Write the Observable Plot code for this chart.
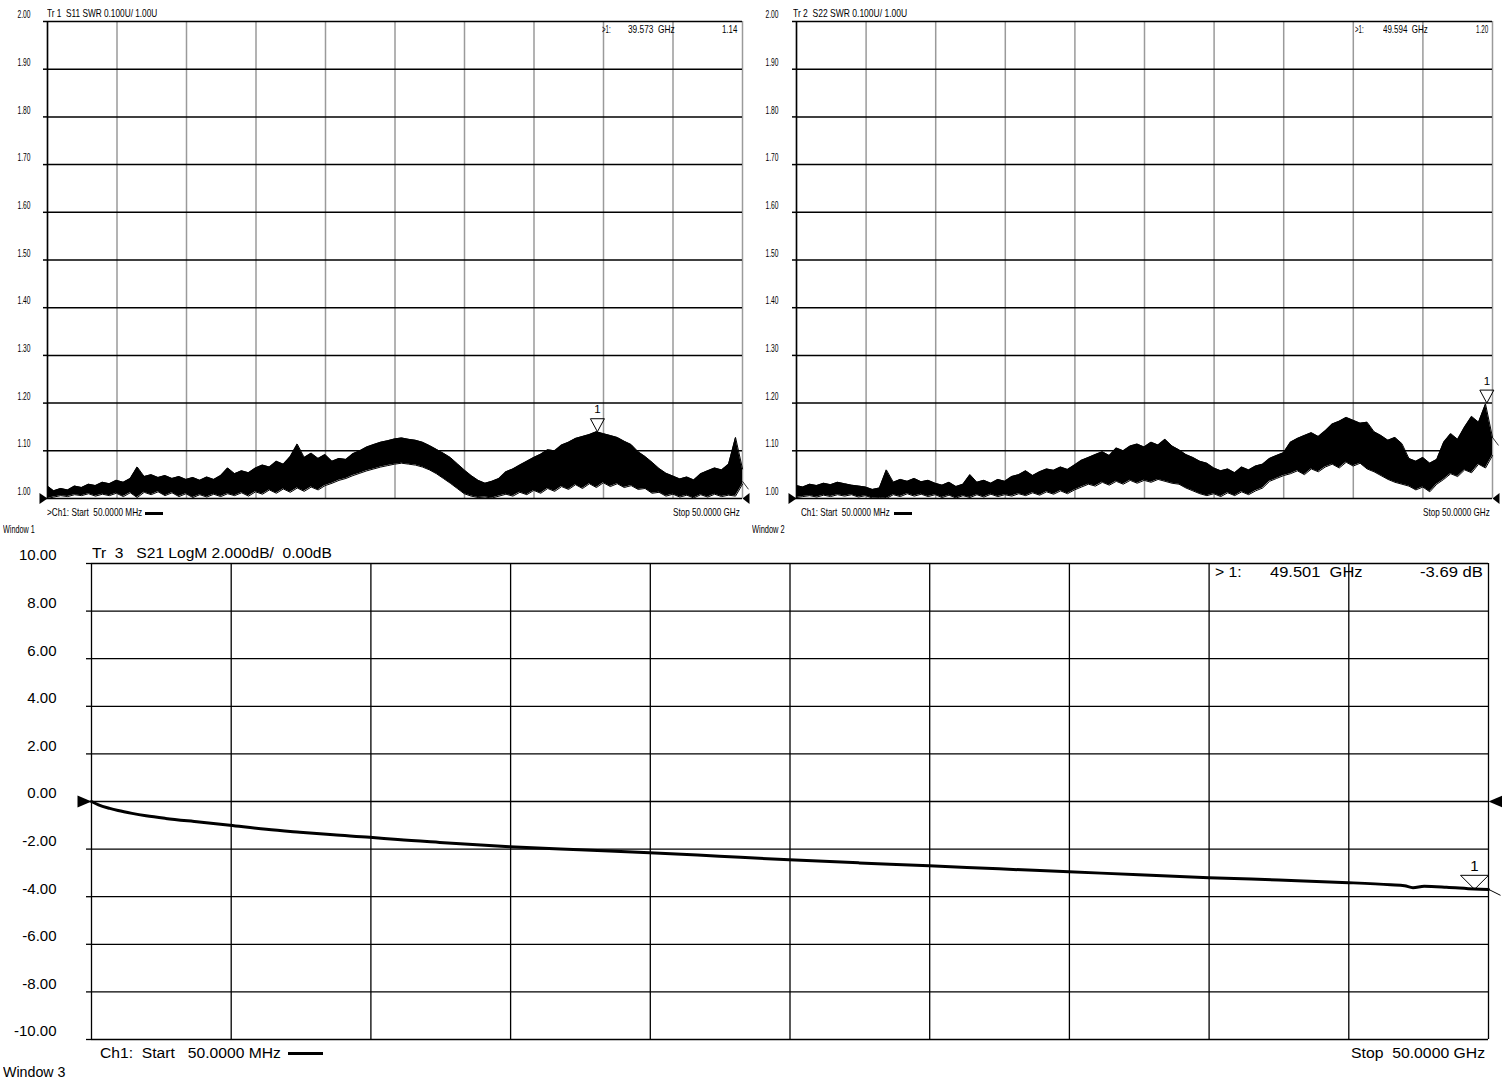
<!DOCTYPE html>
<html><head><meta charset="utf-8">
<script src="https://cdn.jsdelivr.net/npm/d3@7"></script>
<script src="https://cdn.jsdelivr.net/npm/@observablehq/plot@0.6"></script>
<style>
html,body{margin:0;padding:0;background:#fff;}
#root{position:relative;width:1502px;height:1081px;overflow:hidden;background:#fff;font-family:"Liberation Sans",Arial,sans-serif;color:#000;}
#root svg{position:absolute;}
.lbl{position:absolute;white-space:pre;line-height:1;transform-origin:0 50%;}
.bar{position:absolute;background:#000;}
</style></head><body><div id="root"></div>
<script>
// ---------- data ----------
const freq = [0.05,0.5,1,1.5,2,2.5,3,3.5,4,4.5,5,5.5,6,6.5,7,7.5,8,8.5,9,9.5,10,10.5,11,11.5,12,12.5,13,13.5,14,14.5,15,15.5,16,16.5,17,17.5,18,18.5,19,19.5,20,20.5,21,21.5,22,22.5,23,23.5,24,24.5,25,25.5,26,26.5,27,27.5,28,28.5,29,29.5,30,30.5,31,31.5,32,32.5,33,33.5,34,34.5,35,35.5,36,36.5,37,37.5,38,38.5,39,39.5,40,40.5,41,41.5,42,42.5,43,43.5,44,44.5,45,45.5,46,46.5,47,47.5,48,48.5,49,49.5,50];

const s11Hi = [1.026,1.016,1.021,1.018,1.026,1.023,1.030,1.027,1.034,1.031,1.038,1.034,1.042,1.066,1.046,1.050,1.044,1.048,1.042,1.046,1.040,1.044,1.038,1.045,1.040,1.048,1.064,1.052,1.058,1.054,1.064,1.070,1.066,1.078,1.072,1.088,1.114,1.086,1.095,1.084,1.092,1.078,1.084,1.082,1.094,1.100,1.108,1.113,1.118,1.121,1.125,1.127,1.124,1.122,1.118,1.111,1.103,1.095,1.086,1.073,1.060,1.048,1.038,1.032,1.036,1.042,1.056,1.062,1.070,1.078,1.086,1.093,1.102,1.100,1.112,1.118,1.126,1.130,1.134,1.140,1.136,1.132,1.128,1.120,1.113,1.098,1.088,1.076,1.063,1.053,1.047,1.041,1.045,1.039,1.052,1.058,1.064,1.060,1.072,1.128,1.062];
const s11Lo = [1.000,1.003,1.006,1.004,1.008,1.006,1.010,1.005,1.009,1.006,1.011,1.004,1.012,1.002,1.013,1.008,1.014,1.006,1.012,1.004,1.010,1.002,1.008,1.003,1.009,1.004,1.010,1.006,1.012,1.005,1.014,1.009,1.018,1.011,1.020,1.013,1.022,1.015,1.024,1.018,1.027,1.032,1.038,1.042,1.048,1.053,1.058,1.062,1.066,1.069,1.072,1.074,1.072,1.070,1.066,1.060,1.052,1.042,1.032,1.021,1.010,1.005,1.002,1.003,1.001,1.005,1.009,1.005,1.013,1.008,1.017,1.011,1.021,1.015,1.025,1.019,1.029,1.021,1.031,1.023,1.033,1.025,1.031,1.023,1.027,1.019,1.021,1.011,1.013,1.005,1.009,1.003,1.007,1.001,1.008,1.003,1.009,1.004,1.007,1.005,1.030];

const s22Hi = [1.027,1.024,1.030,1.027,1.032,1.029,1.034,1.031,1.028,1.026,1.024,1.019,1.022,1.060,1.034,1.040,1.036,1.042,1.035,1.038,1.032,1.028,1.034,1.025,1.030,1.050,1.034,1.038,1.032,1.040,1.036,1.046,1.050,1.058,1.048,1.056,1.062,1.059,1.066,1.061,1.070,1.080,1.086,1.092,1.098,1.090,1.106,1.100,1.110,1.114,1.108,1.118,1.112,1.124,1.110,1.102,1.092,1.086,1.078,1.074,1.064,1.058,1.062,1.054,1.066,1.060,1.068,1.072,1.084,1.090,1.096,1.118,1.126,1.132,1.138,1.130,1.142,1.156,1.162,1.170,1.164,1.158,1.160,1.140,1.132,1.122,1.128,1.115,1.084,1.078,1.086,1.074,1.082,1.118,1.136,1.124,1.150,1.172,1.160,1.198,1.128];
const s22Lo = [1.002,1.004,1.006,1.003,1.007,1.004,1.008,1.005,1.008,1.003,1.006,1.001,1.002,1.000,1.008,1.004,1.010,1.005,1.009,1.004,1.008,1.002,1.007,1.001,1.006,1.002,1.008,1.003,1.009,1.004,1.008,1.005,1.010,1.006,1.012,1.007,1.014,1.009,1.016,1.010,1.018,1.024,1.030,1.026,1.034,1.028,1.036,1.030,1.038,1.032,1.038,1.034,1.040,1.036,1.032,1.030,1.022,1.016,1.010,1.006,1.010,1.004,1.012,1.006,1.014,1.008,1.016,1.022,1.036,1.042,1.048,1.052,1.058,1.050,1.062,1.056,1.066,1.072,1.064,1.076,1.068,1.074,1.062,1.056,1.048,1.040,1.034,1.030,1.026,1.018,1.024,1.014,1.030,1.040,1.052,1.046,1.060,1.054,1.072,1.064,1.090];

const s21Freq = [0.05,0.3,0.7,1,1.5,2,2.7,3.9,5,6.3,7.5,8.7,10,11,12.5,15,17.5,20,22.5,25,27.5,30,32.5,35,37.5,40,42.5,45,46.5,47,47.3,47.7,48.5,49.5,50];
const s21Val  = [0,-0.14,-0.29,-0.38,-0.5,-0.6,-0.71,-0.86,-1.0,-1.17,-1.29,-1.4,-1.5,-1.6,-1.72,-1.9,-2.03,-2.15,-2.3,-2.45,-2.58,-2.7,-2.83,-2.95,-3.08,-3.2,-3.3,-3.41,-3.5,-3.54,-3.62,-3.56,-3.6,-3.68,-3.7];

const swrTicks = [1.0,1.1,1.2,1.3,1.4,1.5,1.6,1.7,1.8,1.9,2.0];
const swrTickLabels = ["1.00","1.10","1.20","1.30","1.40","1.50","1.60","1.70","1.80","1.90","2.00"];
const dbTicks = [-10,-8,-6,-4,-2,0,2,4,6,8,10];
const dbTickLabels = ["-10.00","-8.00","-6.00","-4.00","-2.00","0.00","2.00","4.00","6.00","8.00","10.00"];

const s11Marker = {f: 39.573, v: 1.14};
const s22Marker = {f: 49.594, v: 1.20};
const s21Marker = {f: 49.501, v: -3.69};
const s11End = {f: 50, v: 1.036};
const s22End = {f: 50, v: 1.128};
const s21End = {f: 50, v: -3.69};
const startGHz = 0.05, stopGHz = 50;

// ---------- helpers ----------
const root = document.getElementById("root");
const FONT = '"Liberation Sans", Arial, sans-serif';
const gridX = d3.range(11).map(k => startGHz + k * (stopGHz - startGHz) / 10);

function tri(w, h) { // downward marker, tip at the point
  return {draw(c) { c.moveTo(0, 0); c.lineTo(-w / 2, -h); c.lineTo(w / 2, -h); c.closePath(); }};
}
function refR(w, h) { // points right, tip at the point
  return {draw(c) { c.moveTo(0, 0); c.lineTo(-w, -h / 2); c.lineTo(-w, h / 2); c.closePath(); }};
}
function refL(w, h) { // points left, tip at the point
  return {draw(c) { c.moveTo(0, 0); c.lineTo(w, -h / 2); c.lineTo(w, h / 2); c.closePath(); }};
}
function slash(w, h) { // short end-of-trace stroke
  return {draw(c) { c.moveTo(0, 0); c.lineTo(w, h); }};
}
function place(svg, left, top) {
  svg.style.left = left + "px"; svg.style.top = top + "px";
  root.appendChild(svg);
}
function label(text, x, y, w, {anchor = "start", size = 11.5} = {}) {
  const s = document.createElement("span");
  s.className = "lbl"; s.textContent = text;
  s.style.fontSize = size + "px";
  root.appendChild(s);
  const mw = s.offsetWidth, mh = s.offsetHeight;
  const k = w / mw;
  s.style.left = (anchor === "end" ? x - w : x) + "px";
  s.style.top = (y - mh / 2) + "px";
  s.style.transform = `scaleX(${k})`;
}
function bar(x1, x2, y1, y2) {
  const b = document.createElement("div");
  b.className = "bar";
  b.style.left = x1 + "px"; b.style.top = y1 + "px";
  b.style.width = (x2 - x1) + "px"; b.style.height = (y2 - y1) + "px";
  root.appendChild(b);
}
const swrFmt = d => swrTickLabels[swrTicks.indexOf(d)];
const dbFmt = d => dbTickLabels[dbTicks.indexOf(d)];

function swrPanel({hi, lo, marker, end, width, marginLeft, marginRight, tickPadding}) {
  const table = freq.map((f, i) => ({f, hi: hi[i], lo: lo[i]}));
  const svg = Plot.plot({
    width, height: 520, marginLeft, marginRight, marginTop: 21, marginBottom: 22,
    x: {domain: [startGHz, stopGHz], axis: null},
    y: {domain: [1, 2], label: null},
    style: {background: "transparent", overflow: "visible", maxWidth: "none", fontFamily: FONT, color: "#000"},
    marks: [
      Plot.ruleX(gridX, {stroke: "#9a9a9a", strokeWidth: 1.5}),
      Plot.ruleX([startGHz], {stroke: "#000", strokeWidth: 1.5}),
      Plot.ruleY(swrTicks, {stroke: "#000", strokeWidth: 1.5}),
      Plot.axisY(swrTicks, {tickSize: 4, fill: "none", strokeWidth: 1.5, label: null}),
      Plot.axisY(swrTicks, {tickSize: 0, tickPadding: tickPadding, dy: -7, fontSize: 11.5, tickFormat: swrFmt, label: null}),
      Plot.areaY(table, {x: "f", y1: "lo", y2: "hi", fill: "#000"}),
      Plot.line(table, {x: "f", y: "hi", stroke: "#000", strokeWidth: 1}),
      Plot.line(table, {x: "f", y: "lo", stroke: "#000", strokeWidth: 1}),
      Plot.dot([end], {x: "f", y: "v", symbol: slash(6, 8), fill: "none", stroke: "#000", strokeWidth: 0.8}),
      Plot.dot([{f: startGHz, v: 1}], {x: "f", y: "v", symbol: refR(8, 11), fill: "#000", stroke: "none"}),
      Plot.dot([{f: stopGHz, v: 1}], {x: "f", y: "v", symbol: refL(7, 11), fill: "#000", stroke: "none"}),
      Plot.dot([marker], {x: "f", y: "v", symbol: tri(14, 13), fill: "none", stroke: "#000", strokeWidth: 1}),
      Plot.text([marker], {x: "f", y: "v", text: () => "1", dy: -22, fontSize: 11.5})
    ]
  });
  svg.querySelectorAll('g[aria-label="y-axis tick label"] text').forEach(t => {
    t.setAttribute("textLength", 13);
    t.setAttribute("lengthAdjust", "spacingAndGlyphs");
  });
  return svg;
}

// ---------- top-left: S11 ----------
place(swrPanel({hi: s11Hi, lo: s11Lo, marker: s11Marker, end: s11End, width: 760, marginLeft: 47, marginRight: 18, tickPadding: 17}), 0, 0);
// ---------- top-right: S22 ----------
place(swrPanel({hi: s22Hi, lo: s22Lo, marker: s22Marker, end: s22End, width: 752, marginLeft: 46, marginRight: 10, tickPadding: 18}), 750, 0);

// ---------- bottom: S21 ----------
const s21 = s21Freq.map((f, i) => ({f, v: s21Val[i]}));
const bottom = Plot.plot({
  width: 1502, height: 520, marginLeft: 91, marginRight: 14, marginTop: 23, marginBottom: 21,
  x: {domain: [startGHz, stopGHz], axis: null},
  y: {domain: [-10, 10], label: null},
  style: {background: "transparent", overflow: "visible", maxWidth: "none", fontFamily: FONT, color: "#000"},
  marks: [
    Plot.ruleX(gridX, {stroke: "#000", strokeWidth: 1.3}),
    Plot.ruleY(dbTicks, {stroke: "#000", strokeWidth: 1.3}),
    Plot.axisY(dbTicks, {tickSize: 5, fill: "none", strokeWidth: 1.3, label: null}),
    Plot.axisY(dbTicks, {tickSize: 0, tickPadding: 35, dy: -8, fontSize: 15, tickFormat: dbFmt, label: null}),
    Plot.line(s21, {x: "f", y: "v", stroke: "#000", strokeWidth: 3, curve: "monotone-x"}),
    Plot.dot([s21End], {x: "f", y: "v", symbol: slash(12, 6), fill: "none", stroke: "#000", strokeWidth: 1}),
    Plot.dot([{f: startGHz, v: 0}], {x: "f", y: "v", symbol: refR(14, 12), fill: "#000", stroke: "none"}),
    Plot.dot([{f: stopGHz, v: 0}], {x: "f", y: "v", symbol: refL(14, 12), fill: "#000", stroke: "none"}),
    Plot.dot([s21Marker], {x: "f", y: "v", symbol: tri(28, 14), fill: "none", stroke: "#000", strokeWidth: 1}),
    Plot.text([s21Marker], {x: "f", y: "v", text: () => "1", dy: -23, fontSize: 15})
  ]
});
place(bottom, 0, 540);

// ---------- annotations ----------
label("Tr 1  S11 SWR 0.100U/ 1.00U", 47, 14, 110);
label(">1:", 602, 30, 8.5);
label("39.573  GHz", 628, 30, 47);
label("1.14", 737, 30, 15, {anchor: "end"});
label(">Ch1: Start  50.0000 MHz", 47, 512.5, 95);
bar(145, 163, 511.5, 514.5);
label("Stop 50.0000 GHz", 740, 512.5, 67, {anchor: "end"});
label("Window 1", 3, 530, 32);

label("Tr 2  S22 SWR 0.100U/ 1.00U", 793, 14, 114);
label(">1:", 1355, 30, 8.5);
label("49.594  GHz", 1383, 30, 45);
label("1.20", 1488, 30, 12, {anchor: "end"});
label("Ch1: Start  50.0000 MHz", 801, 512.5, 89);
bar(894, 912, 511.5, 514.5);
label("Stop 50.0000 GHz", 1490, 512.5, 67, {anchor: "end"});
label("Window 2", 752, 530, 33);

label("Tr  3   S21 LogM 2.000dB/  0.00dB", 92, 553, 240, {size: 14});
label("> 1:", 1215, 572, 27, {size: 14});
label("49.501  GHz", 1270, 572, 93, {size: 14});
label("-3.69 dB", 1483, 572, 63, {anchor: "end", size: 14});
label("Ch1:  Start   50.0000 MHz", 100, 1053, 181, {size: 14});
bar(288, 323, 1051.5, 1055);
label("Stop  50.0000 GHz", 1485, 1053, 134, {anchor: "end", size: 14});
label("Window 3", 3, 1072, 62, {size: 14});
</script></body></html>
